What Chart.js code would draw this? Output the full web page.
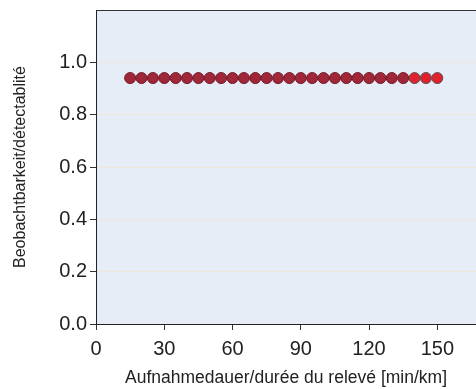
<!DOCTYPE html>
<html><head><meta charset="utf-8">
<script src="https://cdn.jsdelivr.net/npm/chart.js@4"></script>
<style>html,body{margin:0;padding:0;background:#fff}#w{width:476px;height:389px}</style>
</head><body><div id="w"><canvas id="c" width="476" height="389"></canvas></div>
<script>
const xDark = [15,20,25,30,35,40,45,50,55,60,65,70,75,80,85,90,95,100,105,110,115,120,125,130,135];
const yDark = [0.94,0.94,0.94,0.94,0.94,0.94,0.94,0.94,0.94,0.94,0.94,0.94,0.94,0.94,0.94,0.94,0.94,0.94,0.94,0.94,0.94,0.94,0.94,0.94,0.94];
const xRed = [140,145,150];
const yRed = [0.94,0.94,0.94];
const xTicks = [0,30,60,90,120,150];
const yTicks = [0,0.2,0.4,0.6,0.8,1.0];
const xTitle = 'Aufnahmedauer/durée du relevé [min/km]';
const yTitle = 'Beobachtbarkeit/détectablité';

const FONT = 'Liberation Sans, Arial, sans-serif';
const bg = {id:'bg',beforeDraw(ch){const a=ch.chartArea,c=ch.ctx;c.save();c.fillStyle='#e6edf6';c.fillRect(a.left,a.top,a.right-a.left,a.bottom-a.top);c.restore();},
 afterDraw(ch){const a=ch.chartArea,c=ch.ctx;c.save();c.strokeStyle='#333';c.lineWidth=1;c.beginPath();c.moveTo(a.left,a.top+0.5);c.lineTo(a.right,a.top+0.5);c.stroke();c.restore();}};

new Chart(document.getElementById('c'),{
 type:'scatter',
 data:{datasets:[
  {data:xDark.map((x,i)=>({x,y:yDark[i]})),backgroundColor:'#a0263a',borderColor:'#741a26',borderWidth:1,pointRadius:5.5},
  {data:xRed.map((x,i)=>({x,y:yRed[i]})),backgroundColor:'#e2212f',borderColor:'#555',borderWidth:1,pointRadius:5.5}
 ]},
 options:{responsive:false,animation:false,
  layout:{autoPadding:false,padding:{top:10,right:0,left:11,bottom:0}},
  plugins:{legend:{display:false},tooltip:{enabled:false}},
  scales:{
   x:{type:'linear',min:0,max:167,
    afterBuildTicks(ax){ax.ticks=xTicks.map(v=>({value:v}));},
    afterFit(ax){ax.height=65;ax.paddingRight=0;ax.paddingLeft=0;},
    ticks:{color:'#222',font:{family:FONT,size:20},padding:7,maxRotation:0},
    grid:{drawOnChartArea:false,tickLength:6,tickColor:'#333'},
    border:{color:'#222',width:1},
    title:{display:true,text:xTitle,color:'#222',font:{family:FONT,size:17.5},padding:{top:0,bottom:0}}},
   y:{min:0,max:1.2,
    afterBuildTicks(ax){ax.ticks=yTicks.concat([1.2]).map(v=>({value:v}));},
    afterFit(ax){ax.width=85;ax.paddingTop=0;ax.paddingBottom=0;},
    ticks:{color:'#222',font:{family:FONT,size:20},padding:3,callback:v=>v>1.1?'':v.toFixed(1)},
    grid:{color:c=>c.tick&&c.tick.value>1.1?'rgba(0,0,0,0)':'#efe6dc',tickLength:6,
          tickColor:c=>c.tick&&c.tick.value>1.1?'rgba(0,0,0,0)':'#333'},
    border:{color:'#222',width:1},
    title:{display:true,text:yTitle,color:'#222',font:{family:FONT,size:16},padding:{top:0,bottom:0}}}
  }
 },
 plugins:[bg]
});
</script></body></html>
